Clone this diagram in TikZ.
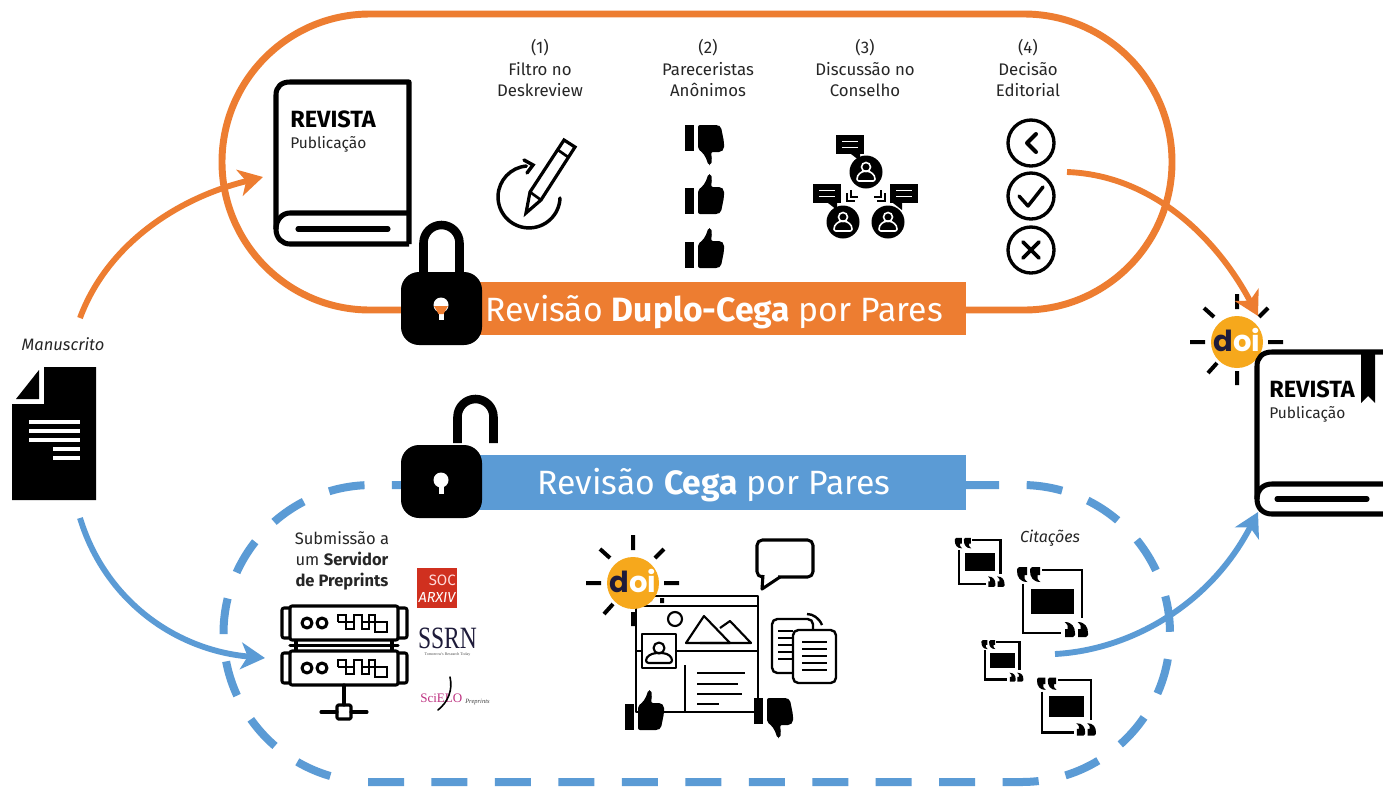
\documentclass[tikz,border=0pt]{standalone}
\usepackage{fontspec}
\setmainfont{Fira Sans}
\newfontfamily\doifont{Poppins}
\newfontfamily\serfont{Liberation Serif}
\usetikzlibrary{arrows.meta}
\definecolor{orangeC}{HTML}{ED7D31}
\definecolor{blueC}{HTML}{5B9BD5}
\definecolor{doiC}{HTML}{F6A81C}
\definecolor{navyC}{HTML}{1E1B3A}
\definecolor{socC}{HTML}{D0301F}
\newcommand{\pxfont}[1]{\fontsize{\dimexpr#1pt*3/4\relax}{\dimexpr#1pt*9/10\relax}\selectfont}
\tikzset{
  orangeline/.style={draw=orangeC,line width=5.2pt},
  bluedash/.style={draw=blueC,line width=6pt,dash pattern=on 27pt off 20.6pt},
  orangearrow/.style={draw=orangeC,line width=4.4pt,-{Stealth[length=18pt,width=20pt,inset=5pt]}},
  bluearrow/.style={draw=blueC,line width=4.4pt,-{Stealth[length=18pt,width=20pt,inset=5pt]}},
  icon/.style={draw=black,line width=2.3pt,line cap=round,line join=round},
  thin icon/.style={draw=black,line width=1.6pt,line join=round},
  headtext/.style={inner sep=0pt,align=center,text=black!85,font={\fontsize{12.6pt}{16.1pt}\selectfont}},
  srvtext/.style={inner sep=0pt,align=center,text=black!85,font={\fontsize{12.4pt}{15.8pt}\selectfont}},
  plaintext/.style={inner sep=0pt,text=black!85},
  bartext/.style={inner sep=0pt,text=white},
  outl/.style={draw=white,line width=1.2pt}
}
% thumb: x y (top-left), 39x40 px
\newcommand{\thumbshape}{%
  \fill[black] (0,14) rectangle (9,40);
  \fill[black,rounded corners=1.5pt] (13,16) -- (18,12) -- (22,5) -- (23,0) -- (26,0) -- (27,5) -- (26,13) -- (36,13) -- (39,16) -- (39,23) -- (36,38) -- (33,40) -- (13,40) -- cycle;}
\newcommand{\thumbup}[2]{\begin{scope}[shift={(#1,#2)}]\thumbshape\end{scope}}
\newcommand{\thumbdown}[2]{\begin{scope}[shift={(#1,#2+40)},yscale=-1]\thumbshape\end{scope}}
% doi badge
\newcommand{\doibadge}[3]{\begin{scope}[shift={(#2,#3)}]
  \draw[black,line width=3pt] (0,-48)--(0,-33) (0,29)--(0,43) (-47,0)--(-32,0) (31,0)--(46,0)
     (-33,-34)--(-23,-25) (31,-34)--(22,-25) (-29,31)--(-20,21);
  \fill[doiC] (0,0) circle (26);
  \node[inner sep=0pt] (#1) at (0,-2) {\doifont\bfseries\pxfont{29}{\color{navyC}d}{\color{white}oi}};
\end{scope}}
% person on dark circle
\newcommand{\personcirc}[2]{\begin{scope}[shift={(#1,#2)}]
  \fill[black] (0,0) circle (16.5);
  \draw[outl] (0,-5) circle (4.5);
  \draw[outl,rounded corners=1.5pt] (-9,9) .. controls (-9,2) and (-4,0) .. (-2,-1) -- (2,-1) .. controls (4,0) and (9,2) .. (9,9) -- cycle;
\end{scope}}
\newcommand{\bubble}[3]{\begin{scope}[shift={(#1,#2)}]
  \fill[black] (0,0) rectangle (28,19);
  \fill[black] (#3,19) -- (#3+9,19) -- (#3+9,26) -- cycle;
  \draw[white,line width=1.2pt] (6,6.5)--(22,6.5) (6,12.5)--(22,12.5);
\end{scope}}
% quote mark
\newcommand{\qmark}{(0,2) -- (2,0) -- (10,0) -- (10,8) -- (7.5,8) .. controls (6.5,10) and (7.5,13) .. (10.5,15) .. controls (3,15) and (0,10) .. (0,4) -- cycle}
\newcommand{\citeicon}[3]{\begin{scope}[shift={(#1,#2)},scale=#3]
  \draw[black,line width=2pt] (19,0) -- (59,0) -- (59,48);
  \draw[black,line width=2pt] (0,14) -- (0,63) -- (38,63);
  \fill[black] (8,19) rectangle (51,44);
  \begin{scope}[shift={(-6,-3)}]\fill[black] \qmark;\end{scope}
  \begin{scope}[shift={(7,-3)}]\fill[black] \qmark;\end{scope}
  \begin{scope}[shift={(52,67)},rotate=180]\fill[black] \qmark;\end{scope}
  \begin{scope}[shift={(65,67)},rotate=180]\fill[black] \qmark;\end{scope}
\end{scope}}
\newcommand{\serverunit}[1]{\begin{scope}[shift={(0,#1)}]
  \draw[icon,fill=white,rounded corners=1.5pt] (290,606) rectangle (398,640);
  \draw[icon,rounded corners=1.5pt] (290,608) -- (282,608) -- (282,638) -- (290,638);
  \draw[icon,rounded corners=1.5pt] (398,608) -- (407,608) -- (407,638) -- (398,638);
  \draw[icon] (307,623) circle (5) (322,623) circle (5);
  \draw[black,line width=2.2pt,line join=miter] (338,622)--(338,615)--(346,615)--(346,629)--(354,629)--(354,615)--(362,615)--(362,629)--(369,629)--(369,615)--(375,615)--(375,622)--(387,622)--(387,632)--(375,632)--(375,622)--(369,622)
     (338,622)--(354,622) (362,622)--(369,622);
\end{scope}}
\begin{document}
\begin{tikzpicture}[x=0.75pt,y=-0.75pt]
\useasboundingbox (0,0) rectangle (1383,786);
\clip (0,0) rectangle (1383,786);
\fill[white] (0,0) rectangle (1383,786);
%--- frames
\draw[orangeline] (370,14) -- (1024,14) arc[start angle=-90,end angle=90,radius=148] -- (370,310) arc[start angle=90,end angle=270,radius=148] -- cycle;
\draw[bluedash] (368,782) -- (1021.5,782) arc[start angle=90,end angle=-90,radius=148.5] -- (372,485) arc[start angle=-90,end angle=-258,radius=148.5];
%--- bars
\node[fill=orangeC,minimum width=372pt,minimum height=39.75pt,inner sep=0pt] (orangebar) at (717.5,308.5) {};
\node[fill=blueC,minimum width=372pt,minimum height=41.25pt,inner sep=0pt] (bluebar) at (717.5,482.5) {};
\node[bartext] (orangetitle) at (714,312) {\pxfont{33.7}Revisão \textbf{Duplo-Cega} por Pares};
\node[bartext] (bluetitle) at (714,485) {\pxfont{33.7}Revisão \textbf{Cega} por Pares};
%--- locks
\draw[black,line width=6.4pt] (423.5,275) -- (423.5,243) arc[start angle=180,end angle=360,radius=18] -- (459.5,275);
\fill[black,rounded corners=13.5pt] (401,272) rectangle (482,345);
\fill[white] (441,305) circle (7.5);
\fill[white] (438.5,305) rectangle (443.5,320);
\fill[orangeC] (434,306) -- (448,306) -- (443.5,314) -- (438.5,314) -- cycle;
\draw[black,line width=6.4pt] (457.5,443) -- (457.5,417) arc[start angle=180,end angle=360,radius=18] -- (493.5,443);
\fill[black,rounded corners=13.5pt] (401,445) rectangle (482,518);
\fill[white] (441,480) circle (7.5);
\fill[white] (438.5,480) rectangle (443.5,494);
%--- book 1
\draw[black,line width=3.8pt,line join=round] (409,213) -- (290,213) .. controls (282,213) and (276,220) .. (276,229) .. controls (276,238) and (282,244) .. (290,244) -- (409,244);
\draw[black,line width=3.8pt,line join=round] (409,244) -- (409,82) -- (290,82) .. controls (281,82) and (276,87) .. (276,95) -- (276,229);
\draw[black,line width=3.8pt,line cap=round] (298,229) -- (388,229);
\node[anchor=west,inner sep=0pt] (rev1) at (290,119) {\pxfont{23.5}\textbf{REVISTA}};
\node[anchor=west,plaintext] (pub1) at (290,144) {\pxfont{15.5}Publicação};
%--- column headings
\node[headtext] (h1) at (540,68) {(1)\\Filtro no\\Deskreview};
\node[headtext] (h2) at (708,68) {(2)\\Pareceristas\\Anônimos};
\node[headtext] (h3) at (865,68) {(3)\\Discussão no\\Conselho};
\node[headtext] (h4) at (1028,68) {(4)\\Decisão\\Editorial};
%--- pencil icon
\draw[black,line width=2.6pt,line cap=round] (560,198) arc[start angle=2,end angle=265,radius=31];
\draw[black,line width=2.6pt,line cap=round,line join=miter] (524,160) -- (533,165) -- (527,173);
\draw[black,line width=2.4pt,line join=miter,fill=white] (526,213) -- (530,192) -- (564,140) -- (575,147) -- (541,200) -- cycle;
\draw[black,line width=2pt] (530,192) -- (541,200) (558,150) -- (568,157);
%--- thumbs
\thumbdown{685}{125}
\thumbup{685}{174}
\thumbup{685}{228}
%--- discussion
\bubble{836}{135}{15}
\bubble{813}{184}{15}
\bubble{890}{184}{3}
\personcirc{866}{172}
\personcirc{843}{222}
\personcirc{888}{222}
\draw[black,line width=1.3pt] (851,190) -- (851,197) -- (858,197) (847,193) -- (847,201) -- (855,201);
\draw[black,line width=1.3pt] (881,190) -- (881,197) -- (874,197) (885,193) -- (885,201) -- (877,201);
%--- decisions
\foreach \cy in {143,196,250} {\draw[black,line width=2.5pt] (1031,\cy) circle (23);}
\draw[black,line width=3pt,line join=round,line cap=round] (1036,134) -- (1027,143) -- (1036,152);
\draw[black,line width=2.6pt,line join=round,line cap=round] (1019,196) -- (1028,206) -- (1043,187);
\draw[black,line width=2.8pt,line cap=round] (1023,242) -- (1039,258) (1039,242) -- (1023,258);
%--- manuscript
\node[plaintext] (mstext) at (63,344) {\pxfont{16.5}\itshape Manuscrito};
\fill[black] (44,367) -- (96,367) -- (96,500) -- (12,500) -- (12,404) -- (44,404) -- cycle;
\fill[black] (39,370) -- (39,399) -- (16,399) -- cycle;
\draw[white,line width=2.4pt] (29,422)--(80,422) (29,431)--(80,431) (29,440)--(80,440) (53,449)--(80,449) (53,458)--(80,458);
\coordinate (msTop) at (80,318);
\coordinate (msBot) at (80,518);
%--- server
\node[srvtext] (srvlabel) at (342,561) {Submissão a\\um \textbf{Servidor}\\\textbf{de Preprints}};
\draw[icon] (296,640) -- (296,651) (392,640) -- (392,651) (290,645.5) -- (398,645.5);
\serverunit{0}
\serverunit{45}
\draw[icon] (344,685) -- (344,705) (321,712) -- (337,712) (351,712) -- (367,712);
\draw[icon,rounded corners=1pt] (337,705) rectangle (351,719);
%--- logos
\node[fill=socC,minimum width=30pt,minimum height=30pt,inner sep=0pt] (socbox) at (437,588) {};
\node[inner sep=0pt,text=white!85!red,anchor=east] (soc) at (456,580) {\pxfont{15}SOC};
\node[inner sep=0pt,text=white] (arxiv) at (437,597) {\pxfont{14.5}\itshape ARXIV};
\node[inner sep=0pt,text=navyC] (ssrn) at (447.5,638) {\serfont\pxfont{31}\scalebox{0.76}[1]{SSRN}};
\node[inner sep=0pt,text=black!70] (ssrntag) at (447.5,655) {\serfont\pxfont{4}Tomorrow's Research Today};
\node[inner sep=0pt,text=magenta!75!black,anchor=west] (scielo) at (420,698) {\serfont\pxfont{13}SciELO};
\draw[black,line width=1.2pt,line cap=round] (438,710) .. controls (448,702) and (453,690) .. (450,677);
\node[inner sep=0pt,text=black!75,anchor=west] (prep) at (465,702) {\serfont\itshape\pxfont{6.5}Preprints};
%--- web window
\draw[thin icon] (636,596) rectangle (758,712);
\draw[thin icon] (636,606) -- (758,606) (636,651) -- (758,651) (685,665) -- (685,712);
\fill[black] (649,598) rectangle (652,601) (660,598) rectangle (664,603);
\draw[thin icon] (675,619) circle (7);
\draw[thin icon] (686,643) -- (704,616) -- (730,643) -- cycle;
\draw[thin icon] (720,628) -- (730,621) -- (751,643) -- (700,643);
\draw[thin icon,fill=white] (642,634) rectangle (676,668);
\draw[thin icon] (659,648) circle (5.5);
\draw[thin icon,rounded corners=2pt] (646,663) .. controls (646,656) and (652,654) .. (655,653) -- (663,653) .. controls (667,654) and (672,656) .. (672,663) -- cycle;
\draw[black,line width=1.6pt] (697,673)--(745,673) (697,684)--(738,684) (697,694)--(742,694) (697,704)--(719,704);
\thumbup{625}{690}
\thumbdown{754}{698}
\doibadge{doi2}{633}{583}
\draw[black,line width=2.3pt,rounded corners=4pt,line join=round] (757,540) rectangle (813,577);
\fill[white] (762,575) rectangle (778,580);
\draw[black,line width=2.3pt,line join=round] (763,575) -- (762,589) -- (780,577);
%--- documents
\draw[black,line width=1.8pt,rounded corners=4pt] (772,619) rectangle (813,673);
\draw[black,line width=1.2pt] (778,631)--(793,631) (778,638)--(793,638) (778,645)--(793,645) (778,652)--(793,652) (778,659)--(793,659);
\draw[black,line width=1.8pt,rounded corners=4pt,fill=white] (793,630) rectangle (836,683);
\draw[black,line width=1.2pt] (802,642)--(827,642) (802,649)--(827,649) (802,656)--(827,656) (802,663)--(827,663) (802,670)--(827,670);
\draw[black,line width=1.8pt] (807,614) .. controls (813,614) and (819,618) .. (822,625);
%--- citations
\citeicon{959}{540}{0.70}
\citeicon{1023}{570}{1}
\citeicon{985}{642}{0.59}
\citeicon{1042}{680}{0.83}
\node[plaintext] (cit) at (1050,538) {\pxfont{16}\itshape Citações};
%--- final doi + book
\doibadge{doi1}{1237}{342}
\draw[black,line width=3.8pt,fill=white,line join=round] (1390,352) -- (1272,352) .. controls (1262,352) and (1257,358) .. (1257,366) -- (1257,499) .. controls (1257,508) and (1263,514) .. (1272,514) -- (1390,514);
\draw[black,line width=3.8pt] (1390,484) -- (1272,484) .. controls (1263,484) and (1257,490) .. (1257,499);
\draw[black,line width=3.8pt,line cap=round] (1277,499) -- (1367,499);
\fill[black] (1361,350) -- (1375,350) -- (1375,403) -- (1368,396) -- (1361,403) -- cycle;
\node[anchor=west,inner sep=0pt] (rev2) at (1269,389) {\pxfont{23.5}\textbf{REVISTA}};
\node[anchor=west,plaintext] (pub2) at (1269,414) {\pxfont{15.5}Publicação};
%--- connectors
\coordinate (bk1in) at (263,177);
\coordinate (dec) at (1067,172);
\coordinate (bk2top) at (1258,316);
\coordinate (srvin) at (265,658);
\coordinate (citout) at (1055,654);
\coordinate (bk2bot) at (1258,512);
\draw[orangearrow] (msTop) .. controls (105,250) and (170,200) .. (bk1in);
\draw[orangearrow] (dec) .. controls (1150,175) and (1215,235) .. (bk2top);
\draw[bluearrow] (msBot) .. controls (105,600) and (175,650) .. (srvin);
\draw[bluearrow] (citout) .. controls (1130,650) and (1210,605) .. (bk2bot);
\end{tikzpicture}
\end{document}
